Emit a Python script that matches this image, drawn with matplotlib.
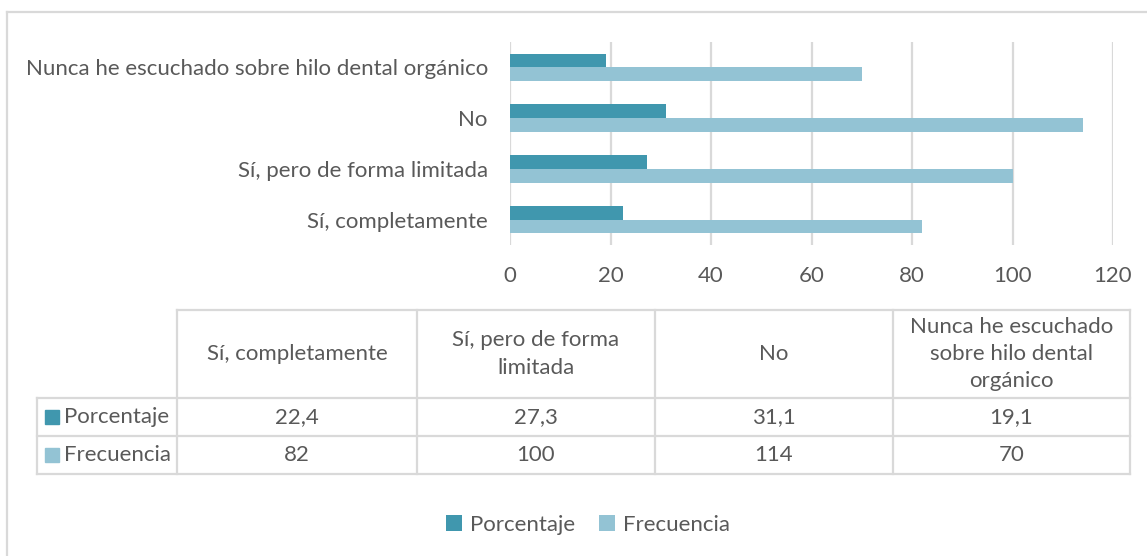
import matplotlib
matplotlib.use("Agg")
import matplotlib.pyplot as plt
from matplotlib.patches import Rectangle

plt.rcParams['font.family'] = ['Lato', 'DejaVu Sans']

# datos
categorias = ["Sí, completamente", "Sí, pero de forma limitada", "No",
              "Nunca he escuchado sobre hilo dental orgánico"]
encabezados = ["Sí, completamente", "Sí, pero de forma\nlimitada", "No",
               "Nunca he escuchado\nsobre hilo dental\norgánico"]
porcentaje = [22.4, 27.3, 31.1, 19.1]
frecuencia = [82, 100, 114, 70]
series = ["Porcentaje", "Frecuencia"]
xticks = [0, 20, 40, 60, 80, 100, 120]

c_por = "#4097AE"
c_fre = "#93C3D4"
gris = "#D9D9D9"
texto = "#595959"
fs = 16

W, H = 1147, 556
fig = plt.figure(figsize=(W / 100, H / 100), dpi=100)

# eje de barras (coordenadas en pixeles -> fraccion)
L, R, T, B = 510, 1113, 42, 245
ax = fig.add_axes([L / W, 1 - B / H, (R - L) / W, (B - T) / H])
y = list(range(len(categorias)))
h = 0.27
ax.barh([v + h / 2 for v in y], porcentaje, height=h, color=c_por, label=series[0], zorder=3)
ax.barh([v - h / 2 for v in y], frecuencia, height=h, color=c_fre, label=series[1], zorder=3)
ax.set_xlim(0, 120)
ax.set_ylim(-0.5, 3.5)
ax.set_xticks(xticks)
ax.set_yticks(y)
ax.set_yticklabels(categorias)
ax.tick_params(length=0, labelsize=fs, labelcolor=texto)
ax.tick_params(axis='y', pad=16)
ax.tick_params(axis='x', pad=15)
ax.grid(axis='x', color=gris, lw=1.6, zorder=0)
for s in ax.spines.values():
    s.set_visible(False)

# capa para tabla, marco y leyenda
ov = fig.add_axes([0, 0, 1, 1], zorder=-1)
ov.set_xlim(0, W)
ov.set_ylim(H, 0)
ov.axis('off')

# marco exterior
ov.plot([7, W], [12, 12], color=gris, lw=1.6)
ov.plot([7, 7], [12, H], color=gris, lw=1.6)

# tabla de datos
cols = [177, 417, 655, 893, 1130]
filas = [310, 398, 436, 474]
tl = 37
lw = 1.6
for yy in filas:
    x0 = cols[0] if yy == filas[0] else tl
    ov.plot([x0, cols[-1]], [yy, yy], color=gris, lw=lw)
for xx in cols:
    ov.plot([xx, xx], [filas[0], filas[-1]], color=gris, lw=lw)
ov.plot([tl, tl], [filas[1], filas[-1]], color=gris, lw=lw)

for j, enc in enumerate(encabezados):
    ov.text((cols[j] + cols[j + 1]) / 2, (filas[0] + filas[1]) / 2, enc,
            ha='center', va='center', fontsize=fs, color=texto, linespacing=1.45)

valores = [porcentaje, frecuencia]
colores = [c_por, c_fre]
for i, (nombre, vals, c) in enumerate(zip(series, valores, colores)):
    yc = (filas[i + 1] + filas[i + 2]) / 2
    ov.add_patch(Rectangle((45, yc - 7), 14, 14, color=c))
    ov.text(64, yc, nombre, ha='left', va='center', fontsize=fs, color=texto)
    for j, v in enumerate(vals):
        s = f"{v:g}".replace(".", ",")
        ov.text((cols[j] + cols[j + 1]) / 2, yc, s, ha='center', va='center',
                fontsize=fs, color=texto)

# leyenda inferior
leg = fig.legend(loc='center', bbox_to_anchor=(588 / W, 1 - 525 / H), ncol=2,
                 frameon=False, fontsize=fs, labelcolor=texto, handlelength=0.7,
                 handleheight=0.7, handletextpad=0.35, columnspacing=1.1)

fig.savefig("out.png", dpi=100)
